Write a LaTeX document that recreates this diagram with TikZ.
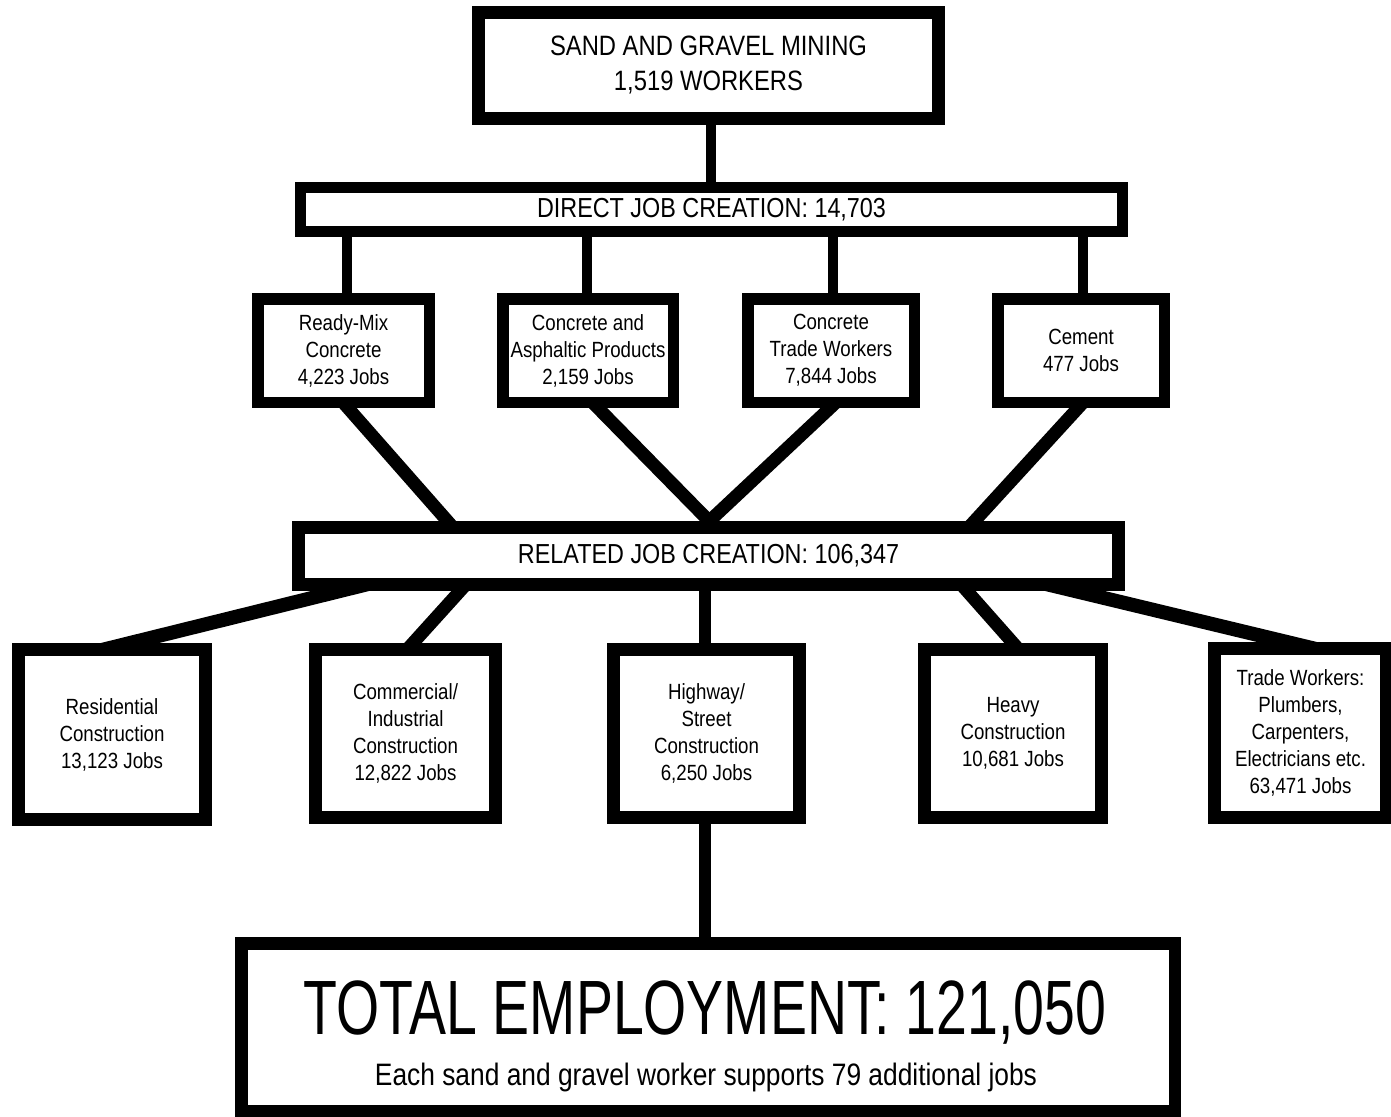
\documentclass[tikz,border=0pt]{standalone}
\usepackage{fontspec}
\setmainfont{Liberation Sans}[FakeStretch=0.85]
\newfontfamily\totalfont{Liberation Sans}[FakeStretch=0.72]
\usetikzlibrary{calc,backgrounds}
\newcommand\linkline[3]{\draw[#1] ($(#2)!-30pt!(#3)$) -- ($(#3)!-30pt!(#2)$);}
\begin{document}
\begin{tikzpicture}[x=1pt,y=-1pt,
  box/.style={draw=black, fill=white, inner sep=0pt, align=center},
  topbox/.style={box, line width=13pt, minimum width=460pt, minimum height=106pt, font=\fontsize{28}{35}\selectfont},
  barbox/.style={box, font=\fontsize{27.5}{33}\selectfont},
  midbox/.style={box, line width=11.5pt, minimum height=103.5pt, font=\fontsize{22}{27}\selectfont},
  lowbox/.style={box, line width=13pt, minimum height=168pt, font=\fontsize{22}{27}\selectfont},
  vline/.style={line width=10pt},
  dline/.style={line width=13pt},
  sline/.style={line width=14pt},
]
\useasboundingbox (0,0) rectangle (1391,1116);

% boxes
\node[topbox] (top) at (708.5,65.5) {SAND AND GRAVEL MINING\\1,519 WORKERS};
\node[barbox, line width=11pt, minimum width=822pt, minimum height=44pt] (direct) at (711.5,209.5) {DIRECT JOB CREATION: 14,703};

\node[midbox, minimum width=171.5pt] (rm) at (343.5,350.5) {Ready-Mix\\Concrete\\4,223 Jobs};
\node[midbox, minimum width=170.5pt] (ca) at (588,350.5) {Concrete and\\Asphaltic Products\\2,159 Jobs};
\node[midbox, minimum width=166.5pt] (tw) at (831,350.5) {Concrete\\Trade Workers\\7,844 Jobs};
\node[midbox, minimum width=166.5pt] (ce) at (1081,350.5) {Cement\\477 Jobs};

\node[barbox, line width=13pt, minimum width=820pt, minimum height=57.5pt] (rel) at (708.5,555.75) {RELATED JOB CREATION: 106,347};

\node[lowbox, minimum width=187pt, minimum height=170pt] (res) at (112,734.5) {Residential\\Construction\\13,123 Jobs};
\node[lowbox, minimum width=180pt] (com) at (405.5,733.5) {Commercial/\\Industrial\\Construction\\12,822 Jobs};
\node[lowbox, minimum width=186pt] (hw) at (706.5,733.5) {Highway/\\Street\\Construction\\6,250 Jobs};
\node[lowbox, minimum width=177pt] (hv) at (1013,733.5) {Heavy\\Construction\\10,681 Jobs};
\node[lowbox, minimum width=172pt, minimum height=169pt] (tr) at (1300.5,733) {Trade Workers:\\Plumbers,\\Carpenters,\\Electricians etc.\\63,471 Jobs};

\node[box, line width=12.5pt, minimum width=933.5pt, minimum height=168pt] (total) at (708,1027.5) {};
\node[anchor=base, inner sep=0pt, font=\totalfont\fontsize{77}{80}\selectfont] (tt) at (705,1034) {TOTAL EMPLOYMENT: 121,050};
\node[anchor=base, inner sep=0pt, font=\fontsize{31}{36}\selectfont] (ts) at (706,1085) {Each sand and gravel worker supports 79 additional jobs};

% connector end points
\coordinate (a1) at ([xshift=2pt]top.south);
\coordinate (a2) at (a1 |- direct.north);
\coordinate (rmT) at ([xshift=3.5pt]rm.north);
\coordinate (rmD) at (rmT |- direct.south);
\coordinate (caT) at ([xshift=-1pt]ca.north);
\coordinate (caD) at (caT |- direct.south);
\coordinate (twT) at ([xshift=2pt]tw.north);
\coordinate (twD) at (twT |- direct.south);
\coordinate (ceT) at ([xshift=2pt]ce.north);
\coordinate (ceD) at (ceT |- direct.south);

\coordinate (rmB) at ([xshift=4.5pt]rm.south);
\coordinate (r1) at ([xshift=-261.5pt]rel.north);
\coordinate (caB) at ([xshift=10pt]ca.south);
\coordinate (r2) at (rel.north);
\coordinate (twB) at ([xshift=-1pt]tw.south);
\coordinate (r3) at ([xshift=1.5pt]rel.north);
\coordinate (ceB) at ([xshift=-3pt]ce.south);
\coordinate (r4) at ([xshift=266.5pt]rel.north);

\coordinate (r5) at ([xshift=-368.5pt]rel.south);
\coordinate (resT) at ([xshift=18pt]res.north);
\coordinate (r6) at ([xshift=-248.5pt]rel.south);
\coordinate (comT) at ([xshift=7.5pt]com.north);
\coordinate (hwT) at ([xshift=-1.5pt]hw.north);
\coordinate (r7) at (hwT |- rel.south);
\coordinate (r8) at ([xshift=258.5pt]rel.south);
\coordinate (hvT) at (hv.north);
\coordinate (r9) at ([xshift=366.5pt]rel.south);
\coordinate (trT) at ([xshift=-13.5pt]tr.north);
\coordinate (hwB) at ([xshift=-1.5pt]hw.south);
\coordinate (totT) at (hwB |- total.north);

\begin{pgfonlayer}{background}
  \fill[white] (0,0) rectangle (1391,1116);
  \linkline{vline}{a1}{a2}
  \linkline{vline}{rmT}{rmD}
  \linkline{vline}{caT}{caD}
  \linkline{vline}{twT}{twD}
  \linkline{vline}{ceT}{ceD}
  \linkline{dline}{rmB}{r1}
  \linkline{dline}{caB}{r2}
  \linkline{dline}{twB}{r3}
  \linkline{dline}{ceB}{r4}
  \linkline{sline}{r5}{resT}
  \linkline{dline}{r6}{comT}
  \linkline{line width=12pt}{r7}{hwT}
  \linkline{dline}{r8}{hvT}
  \linkline{sline}{r9}{trT}
  \linkline{line width=12pt}{hwB}{totT}
\end{pgfonlayer}
\end{tikzpicture}
\end{document}
